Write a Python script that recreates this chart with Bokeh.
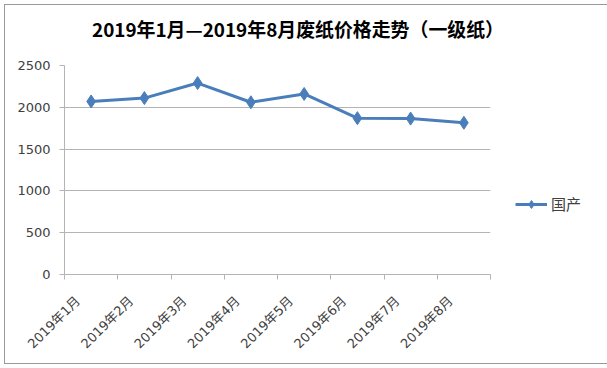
import math
from bokeh.plotting import figure
from bokeh.layouts import column
from bokeh.models import FixedTicker, Range1d, Legend, LegendItem, Div
from bokeh.embed import file_html
from bokeh.resources import INLINE

title_text = "2019年1月—2019年8月废纸价格走势（一级纸）"
categories = ["2019年1月", "2019年2月", "2019年3月", "2019年4月",
              "2019年5月", "2019年6月", "2019年7月", "2019年8月"]
series_name = "国产"
prices = [2070, 2110, 2290, 2060, 2160, 1870, 1865, 1815]
y_ticks = [0, 500, 1000, 1500, 2000, 2500]

CJK = "Noto Sans CJK SC"
MIXED = "DejaVu Sans, Noto Sans CJK SC"
BLUE = "#4A7EBB"
GRID = "#b4b4b4"
LABEL = "#404040"

n = len(categories)
centers = [i + 0.5 for i in range(n)]
bounds = list(range(n + 1))
# Excel-style: rotated category labels sit slightly left of the category centre
label_pos = [c - 0.25 for c in centers]

head = Div(
    text=('<div style="position:relative; left:87px; top:10px; white-space:nowrap; '
          f'font-family:\'{CJK}\'; font-size:18.9px; font-weight:bold; color:#000;">'
          f'{title_text}</div>'),
    width=594, height=50, margin=0)

p = figure(frame_width=426, frame_height=209, output_backend="svg",
           toolbar_location=None,
           x_range=Range1d(0, n), y_range=Range1d(y_ticks[0], y_ticks[-1]),
           min_border_left=59, min_border_right=109, min_border_top=10,
           min_border_bottom=89, margin=0)
p.outline_line_color = None

# grid
p.xgrid.grid_line_color = None
p.ygrid.ticker = FixedTicker(ticks=y_ticks)
p.ygrid.grid_line_color = GRID
p.ygrid.grid_line_width = 1

# y axis
p.yaxis.ticker = FixedTicker(ticks=y_ticks)
p.yaxis.axis_line_color = GRID
p.yaxis.major_tick_line_color = GRID
p.yaxis.major_tick_out = 5
p.yaxis.major_tick_in = 0
p.yaxis.minor_tick_line_color = None
p.yaxis.major_label_text_font = "DejaVu Sans"
p.yaxis.major_label_text_font_size = "13px"
p.yaxis.major_label_text_color = LABEL
p.yaxis.major_label_standoff = 9

# x axis: labels near centres, tick marks at category boundaries
p.xaxis.ticker = FixedTicker(ticks=label_pos, minor_ticks=bounds)
p.xaxis.major_label_overrides = {c: cat for c, cat in zip(label_pos, categories)}
p.xaxis.major_tick_out = 0
p.xaxis.major_tick_in = 0
p.xaxis.major_tick_line_color = None
p.xaxis.minor_tick_out = 5
p.xaxis.minor_tick_in = 0
p.xaxis.minor_tick_line_color = GRID
p.xaxis.axis_line_color = GRID
p.xaxis.major_label_orientation = math.pi / 4
p.xaxis.major_label_text_font = MIXED
p.xaxis.major_label_text_font_size = "13px"
p.xaxis.major_label_text_color = LABEL
p.xaxis.major_label_standoff = 19

# series
ln = p.line(centers, prices, line_color=BLUE, line_width=3)
sc = p.scatter(centers, prices, marker="diamond", size=13, fill_color=BLUE,
               line_color=BLUE)

legend = Legend(items=[LegendItem(label=series_name, renderers=[ln, sc])],
                location=(25, 60), glyph_width=32, glyph_height=20,
                label_standoff=4, padding=0, margin=0, spacing=0,
                border_line_color=None, background_fill_alpha=0,
                label_text_font=CJK, label_text_font_size="15px",
                label_text_color=LABEL)
p.add_layout(legend, "right")

layout = column(head, p, spacing=0,
                styles={"border": "1px solid #9a9a9a", "margin": "4px 0 0 4px"})

open("out.html", "w").write(file_html(layout, INLINE))
